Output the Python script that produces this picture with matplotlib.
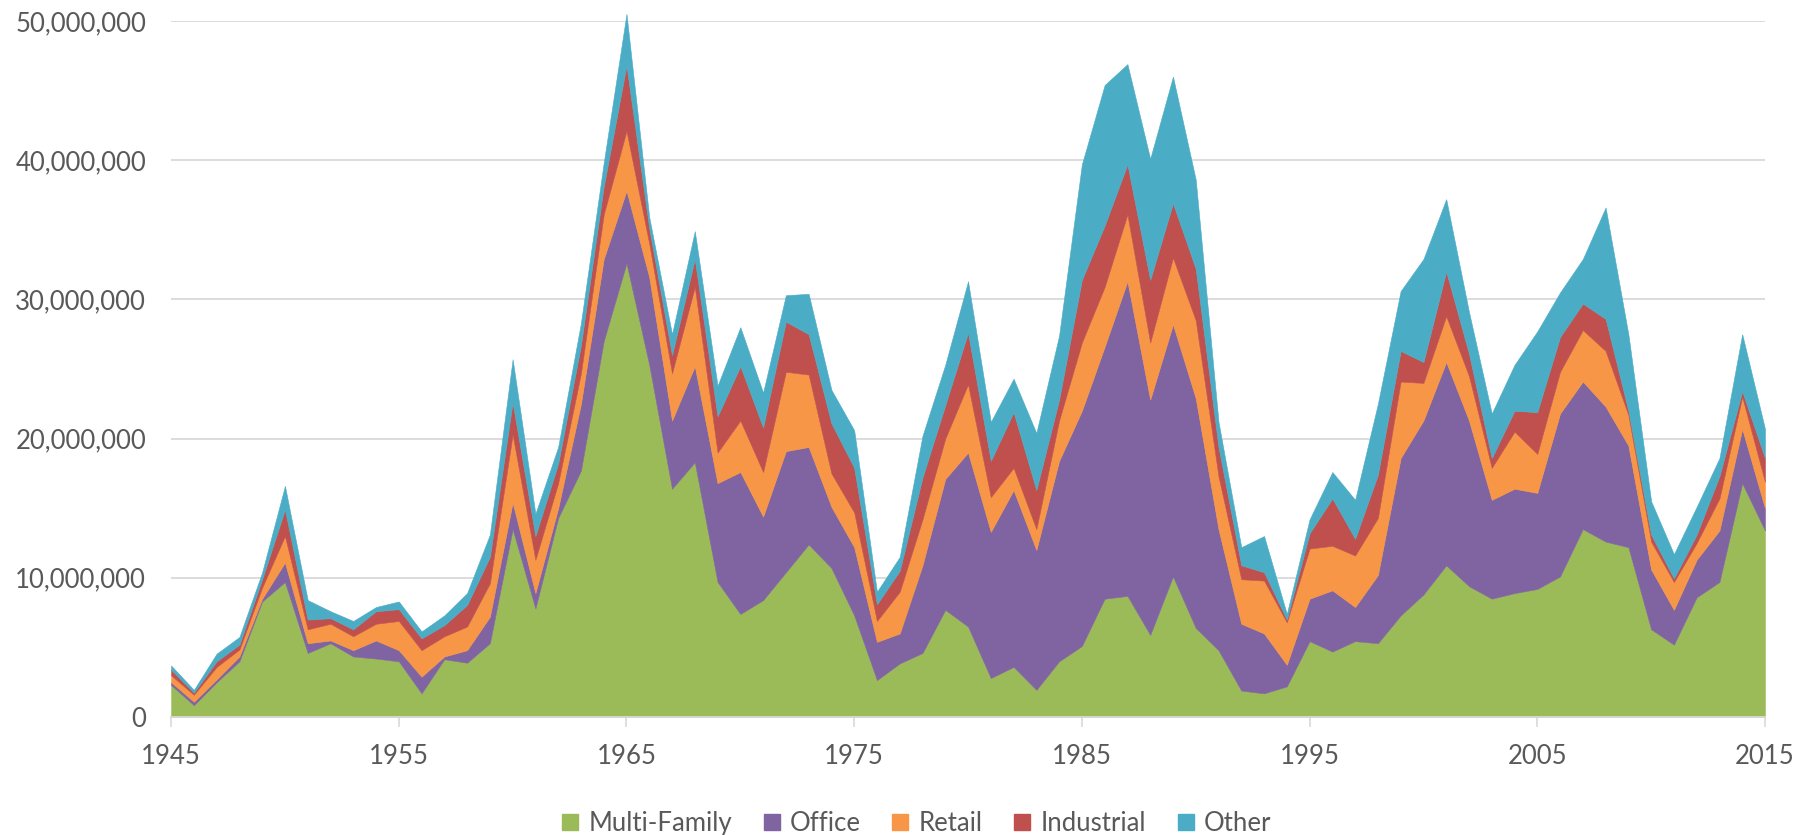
import matplotlib
matplotlib.use("Agg")
from matplotlib import pyplot as plt
from matplotlib.lines import Line2D
from matplotlib.ticker import FuncFormatter
import numpy as np

# years on the x axis
years = list(range(1945, 2016))

# square feet by property type (millions)
multi_family = [2.3, 0.85, 2.5, 4.0, 8.3, 9.7, 4.6, 5.3, 4.35, 4.2,
                4.0, 1.7, 4.15, 3.9, 5.3, 13.5, 7.8, 14.3, 17.7, 27.0,
                32.6, 25.3, 16.4, 18.3, 9.7, 7.4, 8.4, 10.4, 12.4, 10.7,
                7.3, 2.65, 3.85, 4.6, 7.7, 6.5, 2.8, 3.6, 1.95, 4.0,
                5.1, 8.5, 8.7, 5.9, 10.1, 6.4, 4.8, 1.9, 1.7, 2.2,
                5.45, 4.7, 5.45, 5.3, 7.3, 8.8, 10.9, 9.4, 8.5, 8.9,
                9.2, 10.1, 13.5, 12.6, 12.2, 6.3, 5.2, 8.6, 9.7, 16.8,
                13.4]
office = [0.2, 0.25, 0.2, 0.35, 0.2, 1.4, 0.7, 0.2, 0.45, 1.3,
          0.8, 1.2, 0.2, 0.9, 1.9, 1.9, 1.1, 0.7, 4.8, 5.9,
          5.2, 6.3, 4.9, 6.9, 7.1, 10.2, 6.0, 8.7, 7.0, 4.4,
          4.9, 2.75, 2.15, 6.3, 9.4, 12.5, 10.5, 12.7, 10.05, 14.4,
          16.9, 18.1, 22.6, 16.9, 18.1, 16.5, 8.7, 4.8, 4.3, 1.55,
          3.05, 4.4, 2.45, 4.9, 11.3, 12.5, 14.6, 11.9, 7.1, 7.5,
          6.9, 11.7, 10.6, 9.7, 7.3, 4.3, 2.5, 2.7, 3.7, 3.9,
          1.6]
retail = [0.5, 0.5, 0.9, 0.5, 0.8, 1.9, 1.0, 1.2, 1.0, 1.2,
          2.1, 1.9, 1.45, 1.7, 2.4, 4.9, 2.4, 1.8, 2.2, 3.2,
          4.3, 2.4, 3.4, 5.7, 2.2, 3.7, 3.2, 5.7, 5.2, 2.4,
          2.5, 1.5, 3.0, 3.3, 2.9, 4.9, 2.5, 1.6, 1.5, 2.9,
          4.9, 4.3, 4.8, 4.1, 4.8, 5.6, 3.8, 3.2, 3.8, 3.05,
          3.6, 3.2, 3.7, 4.1, 5.5, 2.7, 3.3, 3.2, 2.3, 4.1,
          2.8, 3.0, 3.7, 4.0, 2.2, 2.0, 2.0, 1.2, 2.3, 2.3,
          1.9]
industrial = [0.4, 0.15, 0.4, 0.35, 0.6, 1.9, 0.7, 0.4, 0.5, 0.9,
              0.85, 0.85, 0.8, 1.55, 1.9, 2.3, 1.7, 1.4, 2.0, 2.0,
              4.7, 1.1, 1.3, 2.0, 2.6, 3.9, 3.2, 3.6, 2.9, 3.6,
              3.2, 1.2, 1.5, 3.0, 2.4, 3.7, 2.6, 4.0, 2.8, 1.5,
              4.5, 4.4, 3.6, 4.5, 3.9, 3.7, 2.1, 1.0, 0.6, 0.2,
              1.1, 3.4, 1.2, 3.1, 2.2, 1.5, 3.2, 1.6, 0.7, 1.5,
              3.0, 2.5, 1.9, 2.3, 0.3, 0.5, 0.25, 0.6, 1.6, 0.4,
              1.7]
other = [0.3, 0.2, 0.55, 0.55, 0.5, 1.7, 1.4, 0.5, 0.6, 0.3,
         0.55, 0.5, 0.7, 0.85, 1.6, 3.1, 1.6, 1.2, 1.6, 1.7,
         3.7, 0.8, 1.5, 2.0, 2.2, 2.8, 2.5, 1.9, 2.9, 2.4,
         2.7, 0.9, 1.0, 3.0, 2.9, 3.7, 2.8, 2.4, 4.1, 4.6,
         8.3, 10.1, 7.2, 8.7, 9.1, 6.4, 1.8, 1.3, 2.6, 0.4,
         1.0, 1.9, 2.8, 5.1, 4.3, 7.4, 5.2, 3.0, 3.2, 3.3,
         5.8, 3.2, 3.2, 8.0, 5.5, 2.4, 1.75, 2.0, 1.3, 4.1,
         2.1]

labels = ["Multi-Family", "Office", "Retail", "Industrial", "Other"]
colors = ["#9BBB59", "#8064A2", "#F79646", "#C0504D", "#4BACC6"]

plt.rcParams["font.family"] = ["Lato", "DejaVu Sans"]
txt = "#595959"

fig = plt.figure(figsize=(18.16, 8.35), dpi=100)
ax = fig.add_axes([0.0942, 0.1413, 0.8777, 0.8336])

series = [np.array(s) * 1e6 for s in (multi_family, office, retail, industrial, other)]
polys = ax.stackplot(years, *series, colors=colors, labels=labels, zorder=2)
for p, c in zip(polys, colors):
    p.set_edgecolor(c)
    p.set_linewidth(0.4)
    p.set_clip_on(False)

ax.set_xlim(1945, 2015)
ax.set_ylim(0, 50e6)
ax.set_xticks(range(1945, 2016, 10))
ax.set_yticks(range(0, 50000001, 10000000))
ax.yaxis.set_major_formatter(FuncFormatter(lambda v, p: f"{int(v):,}"))

ax.grid(axis="y", color="#D9D9D9", linewidth=1.3, zorder=0)
ax.set_axisbelow(True)
for s in ["top", "right", "left"]:
    ax.spines[s].set_visible(False)
ax.spines["bottom"].set_color("#D9D9D9")
ax.spines["bottom"].set_linewidth(1.3)
ax.spines["bottom"].set_zorder(3)

ax.tick_params(axis="y", length=0, pad=18, labelsize=18.5, labelcolor=txt)
ax.tick_params(axis="x", length=7, width=1.2, color="#D9D9D9", pad=12.5,
               labelsize=18.5, labelcolor=txt)

handles = [Line2D([], [], linestyle="none", marker="s", markersize=11,
                  markerfacecolor=c, markeredgecolor=c) for c in colors]
fig.legend(handles, labels, loc="center", bbox_to_anchor=(0.5045, 0.014),
           ncol=5, frameon=False, fontsize=18.5, labelcolor=txt,
           handlelength=0.7, handletextpad=0.35, columnspacing=1.2)

fig.savefig("out.png", dpi=100)
